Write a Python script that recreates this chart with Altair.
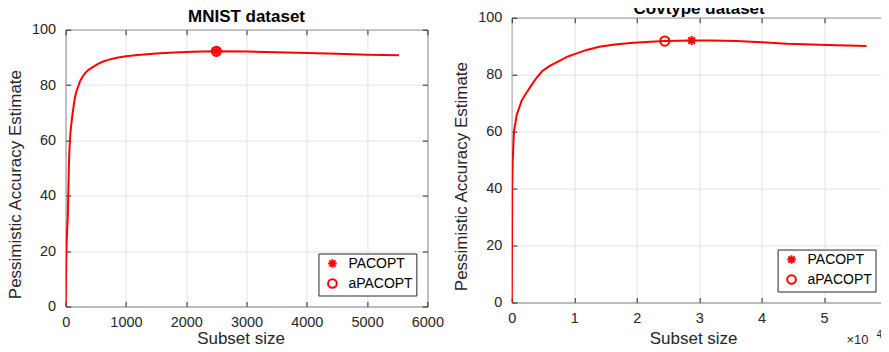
import altair as alt
import pandas as pd

# ---------------- data ----------------
mnist_x = [0, 8, 15, 25, 35, 45, 55, 65, 80, 95, 110, 130, 150, 175, 200, 240, 280,
           330, 380, 450, 530, 620, 720, 850, 1000, 1200, 1500, 1800, 2100, 2500,
           3000, 3500, 4000, 4500, 5000, 5530]
mnist_y = [0, 15, 22, 28, 32, 42, 52, 58, 63, 66, 69, 72, 75, 77.5, 79, 81.5, 83,
           84.5, 85.5, 86.5, 87.6, 88.5, 89.2, 89.9, 90.4, 90.9, 91.4, 91.8, 92.0, 92.2,
           92.1, 91.9, 91.6, 91.3, 91.0, 90.8]

cov_x = [0, 60, 150, 350, 800, 1600, 2300, 3200, 4000, 4850, 6000, 7700, 9000,
         10400, 12000, 14000, 16500, 19000, 21500, 24500, 28800, 32000, 36000,
         40000, 44000, 48000, 52000, 56800]
cov_y = [0, 40, 50, 60, 66, 71, 73.5, 76.5, 79, 81.2, 83, 84.9, 86.4,
         87.5, 88.7, 89.8, 90.6, 91.1, 91.5, 91.8, 92.0, 92.0, 91.8,
         91.4, 90.9, 90.6, 90.3, 90.1]

methods = ["PACOPT", "aPACOPT"]
mnist_opt_x = [2500, 2500]
mnist_opt_y = [92.2, 92.2]
cov_opt_x = [28800, 24500]
cov_opt_y = [92.0, 91.8]

y_ticks = [0, 20, 40, 60, 80, 100]
mnist_x_ticks = [0, 1000, 2000, 3000, 4000, 5000, 6000]
cov_x_ticks = [0, 10000, 20000, 30000, 40000, 50000, 60000]

# ---------------- style ----------------
RED = "#ff0000"
AX = "#262626"
GRID = "#e3e3e3"
FONT = "Liberation Sans"
ASTERISK = "M-1,0L1,0M0,-1L0,1M-0.72,-0.72L0.72,0.72M-0.72,0.72L0.72,-0.72"


def panel(title, lx, ly, ox, oy, xticks, xmax, w, h, label_expr, title_dy, xtitle_y, exp_label=False):
    line_df = pd.DataFrame({"x": lx, "y": ly})
    opt_df = pd.DataFrame({"x": ox, "y": oy, "method": methods})
    xs = alt.Scale(domain=[0, xmax], nice=False, zero=False)
    ys = alt.Scale(domain=[0, 100], nice=False, zero=False)

    xaxis = alt.Axis(values=xticks, title="Subset size", offset=-5, tickSize=5, domain=False,
                     grid=True, gridColor=GRID, tickColor=AX, labelColor=AX, labelFontSize=14.5,
                     labelFont=FONT, labelPadding=9, titleFont=FONT, titleFontSize=17,
                     titleFontWeight="normal", titleColor=AX, titleBaseline="alphabetic",
                     titleX=w / 2 - 6, titleY=xtitle_y, labelFlush=False, labelExpr=label_expr)
    yaxis = alt.Axis(values=y_ticks, title="Pessimistic Accuracy Estimate", offset=-5, tickSize=5,
                     domain=False, grid=True, gridColor=GRID, tickColor=AX, labelColor=AX,
                     labelFontSize=14.5, labelFont=FONT, labelPadding=10, titleFont=FONT,
                     titleFontSize=17, titleFontWeight="normal", titleColor=AX, titlePadding=7,
                     titleY=h / 2 + 16, labelFlush=False)

    line = alt.Chart(line_df).mark_line(color=RED, strokeWidth=2, clip=True).encode(
        x=alt.X("x:Q", scale=xs, axis=xaxis),
        y=alt.Y("y:Q", scale=ys, axis=yaxis),
        order="x:Q",
    )
    ticks = alt.Chart(line_df).mark_line(strokeOpacity=0).encode(
        x=alt.X("x:Q", scale=xs, axis=alt.Axis(orient="top", values=xticks, labels=False, title=None,
                                                offset=-5, tickSize=5, domain=False, grid=False,
                                                tickColor=AX)),
        y=alt.Y("y:Q", scale=ys, axis=alt.Axis(orient="right", values=y_ticks, labels=False, title=None,
                                                offset=-5, tickSize=5, domain=False, grid=False,
                                                tickColor=AX)),
    )
    pts = alt.Chart(opt_df).mark_point(filled=False, color=RED, strokeWidth=2, size=85, opacity=1).encode(
        x=alt.X("x:Q", scale=xs, axis=None),
        y=alt.Y("y:Q", scale=ys, axis=None),
        shape=alt.Shape("method:N", scale=alt.Scale(domain=methods, range=[ASTERISK, "circle"]),
                        legend=alt.Legend(title=None, orient="bottom-right", offset=11,
                                          strokeColor=AX, fillColor="white", padding=3,
                                          labelFont=FONT, labelFontSize=14, labelColor="black",
                                          symbolStrokeColor=RED, symbolStrokeWidth=2,
                                          symbolSize=75, symbolFillColor="transparent",
                                          symbolOffset=4, rowPadding=2, labelOffset=9)),
    )
    ttl = alt.Chart(opt_df.head(1)).mark_text(align="center", baseline="alphabetic", font=FONT,
                                              fontSize=17, fontWeight="bold", color="black").encode(
        x=alt.value(w / 2), y=alt.value(title_dy), text=alt.value(title))
    layers = [line, ticks, pts, ttl]
    if exp_label:
        layers.append(alt.Chart(opt_df.head(1)).mark_text(align="right", baseline="alphabetic", font=FONT,
                                                          fontSize=13, color=AX).encode(
            x=alt.value(w - 18), y=alt.value(h + 42), text=alt.value("\u00d710")))
        layers.append(alt.Chart(opt_df.head(1)).mark_text(align="left", baseline="alphabetic", font=FONT,
                                                          fontSize=10, color=AX).encode(
            x=alt.value(w - 10), y=alt.value(h + 35.5), text=alt.value("4")))
    return alt.layer(*layers).resolve_axis(x="independent", y="independent").properties(
        width=w, height=h, view=alt.ViewBackground(stroke=AX, strokeWidth=1),
    )


left = panel("MNIST dataset", mnist_x, mnist_y, mnist_opt_x, mnist_opt_y, mnist_x_ticks, 6000,
             362, 277, label_expr="format(datum.value, 'd')", title_dy=-8, xtitle_y=42)
right = panel("Covtype dataset", cov_x, cov_y, cov_opt_x, cov_opt_y, cov_x_ticks, 60000,
              375, 285, label_expr="format(datum.value / 10000, 'd')", title_dy=-4, xtitle_y=46,
              exp_label=True)

spacer = alt.Chart(pd.DataFrame({"a": [0]})).mark_point(opacity=0).encode(
    x=alt.value(0), y=alt.value(0)).properties(
    width=362, height=12, view=alt.ViewBackground(strokeOpacity=0, stroke="white"))

left_col = alt.vconcat(spacer, left, spacing=0, bounds="flush").resolve_scale(
    shape="independent").resolve_legend(shape="independent")

chart = alt.hconcat(left_col, right, spacing=7.5).resolve_scale(shape="independent").resolve_legend(
    shape="independent").properties(
    padding={"left": -2.3, "top": -9.4, "right": -11, "bottom": -1.6},
    background="white",
)

chart.save("out.html", embed_options={"renderer": "svg", "actions": False})
